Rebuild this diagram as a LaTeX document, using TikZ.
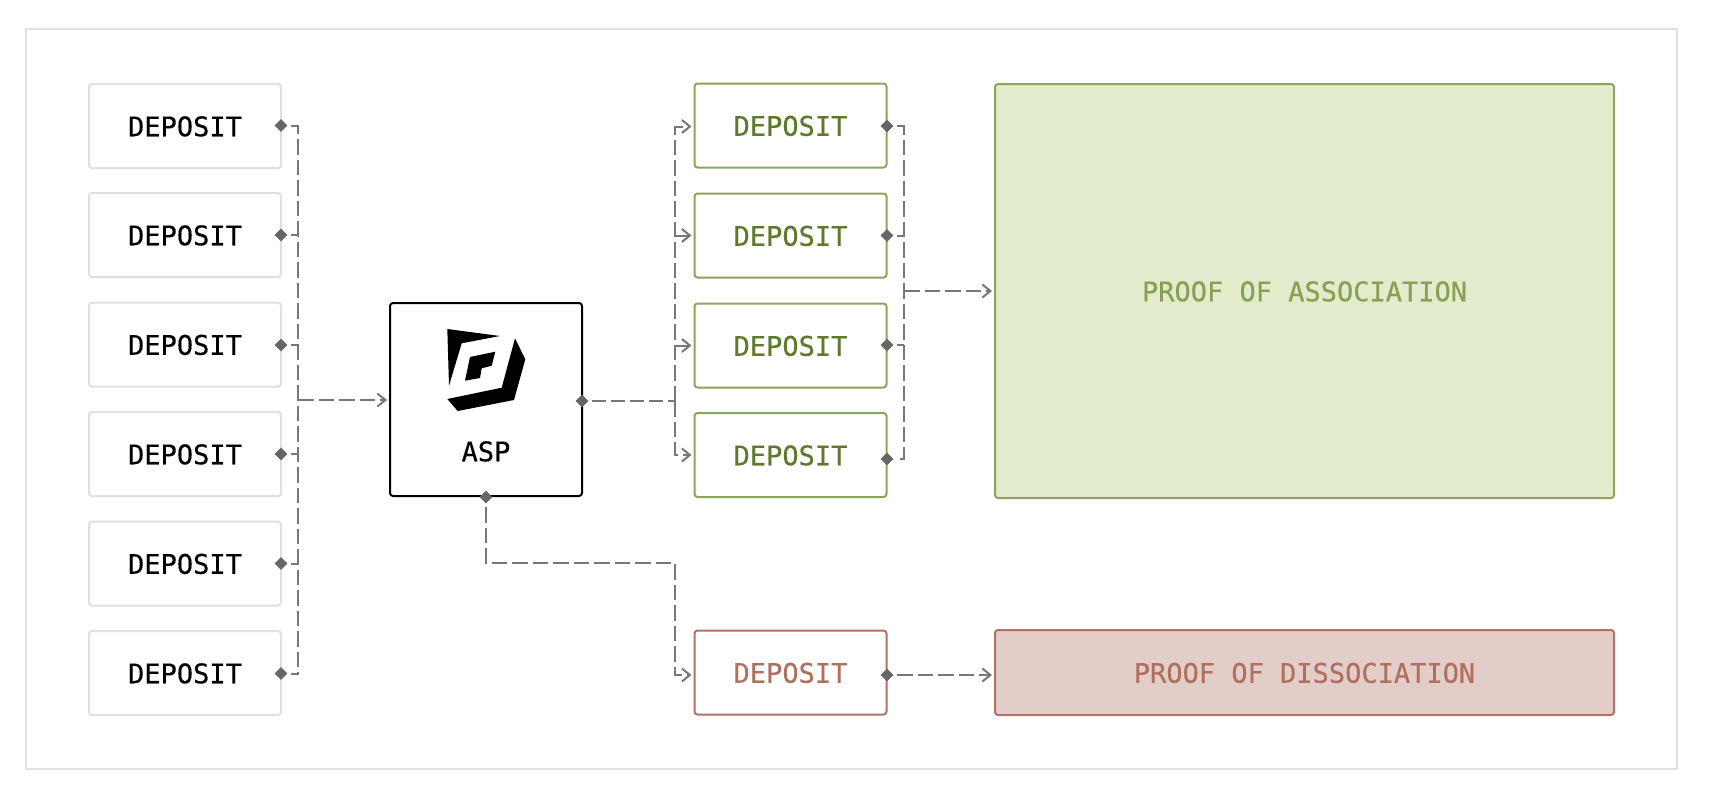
\documentclass[tikz,border=0pt]{standalone}
\usepackage{fontspec}
\usetikzlibrary{arrows.meta,shapes.geometric,calc}
\setmonofont[FakeBold=0.35]{DejaVu Sans Mono}
\definecolor{framegray}{HTML}{E1E1E1}
\definecolor{boxgray}{HTML}{E0E0E0}
\definecolor{conngray}{HTML}{777777}
\definecolor{dotgray}{HTML}{666666}
\definecolor{gborder}{HTML}{8BA55B}
\definecolor{gfill}{HTML}{E2EBCB}
\definecolor{gtext}{HTML}{5C7A2A}
\definecolor{gtextb}{HTML}{87A053}
\definecolor{rborder}{HTML}{B07264}
\definecolor{rfill}{HTML}{E3CDC8}
\definecolor{rtext}{HTML}{B07060}
\tikzset{
  label text/.style={font=\ttfamily\fontsize{27}{30}\selectfont,text height=20.5pt,text depth=0pt,inner sep=0pt},
  cardbox/.style={rectangle,rounded corners=3pt,line width=2pt,minimum width=192pt,minimum height=84pt,label text},
  plainbox/.style={cardbox,draw=boxgray,fill=white,text=black},
  greenbox/.style={cardbox,draw=gborder,fill=white,text=gtext},
  redbox/.style={cardbox,draw=rborder,fill=white,text=rtext},
  aspbox/.style={rectangle,rounded corners=3pt,line width=2pt,draw=black,fill=white,minimum width=192pt,minimum height=193pt},
  bigg/.style={cardbox,draw=gborder,fill=gfill,text=gtextb,minimum width=619pt,minimum height=414pt},
  bigr/.style={cardbox,draw=rborder,fill=rfill,text=rtext,minimum width=619pt,minimum height=85pt},
  dot/.style={diamond,aspect=1,fill=dotgray,inner sep=0pt,minimum width=13pt,minimum height=13pt},
  conn/.style={draw=conngray,line width=2pt,dash pattern=on 15.5pt off 5pt},
  tip/.style={-{Straight Barb[length=8pt,width=13pt,line width=2pt]},shorten >=2pt},
  fromdot/.style={shorten <=3.5pt}
}
\begin{document}
\begin{tikzpicture}[x=1pt,y=-1pt]
\useasboundingbox (0,0) rectangle (1720,798);
\fill[white] (0,0) rectangle (1720,798);
\draw[framegray,line width=2pt] (26,29) rectangle (1677,769);

% left deposits
\node[plainbox] (d1) at (185,126) {DEPOSIT};
\node[plainbox] (d2) at (185,235) {DEPOSIT};
\node[plainbox] (d3) at (185,344.5) {DEPOSIT};
\node[plainbox] (d4) at (185,454) {DEPOSIT};
\node[plainbox] (d5) at (185,563.5) {DEPOSIT};
\node[plainbox] (d6) at (185,673) {DEPOSIT};

% ASP
\node[aspbox] (asp) at (486,399.5) {};
\node[label text,text=black] (asplabel) at (486,451) {ASP};
\fill[black] (447.3,329) -- (500,336) -- (461.7,343.3) -- (449,385.7) -- cycle;
\fill[black] (515,338.3) -- (525.3,359.3) -- (514,400) -- (457.7,411) -- (447.3,399) -- (501.7,387.7) -- cycle;
\fill[black] (470,357) -- (495.3,351.7) -- (491.7,365.7) -- (481.7,368.3) -- (480,378) -- (465,380.7) -- cycle;

% green deposits
\node[greenbox] (g1) at (790.5,125.5) {DEPOSIT};
\node[greenbox] (g2) at (790.5,235.5) {DEPOSIT};
\node[greenbox] (g3) at (790.5,345.5) {DEPOSIT};
\node[greenbox] (g4) at (790.5,455) {DEPOSIT};
\node[bigg] (poa) at (1304.5,291) {PROOF OF ASSOCIATION};

% red
\node[redbox] (r1) at (790.5,672.5) {DEPOSIT};
\node[bigr] (pod) at (1304.5,672.5) {PROOF OF DISSOCIATION};

% port diamonds
\node[dot] (d1o) at (281,125.5) {};
\node[dot] (d2o) at (281,235) {};
\node[dot] (d3o) at (281,345) {};
\node[dot] (d4o) at (281,454) {};
\node[dot] (d5o) at (281,563.5) {};
\node[dot] (d6o) at (281,673.5) {};
\node[dot] (ao) at (582,401) {};
\node[dot] (bo) at (486,497) {};
\node[dot] (g1o) at (887,126) {};
\node[dot] (g2o) at (887,235.5) {};
\node[dot] (g3o) at (887,345) {};
\node[dot] (g4o) at (887,459) {};
\node[dot] (ro) at (887,675) {};

% junctions
\coordinate (tl) at (298,400);
\coordinate (gt) at (675,401);
\coordinate (rt) at (904,291);
\coordinate (bc1) at (486,563);
\coordinate (bc2) at (675,563);
\coordinate (bc3) at (675,675);

% deposits to ASP
\draw[conn,fromdot,shorten >=3.5pt] (d1o) -| (tl) |- (d6o);
\foreach \n in {d2o,d3o,d4o,d5o}{\draw[conn,fromdot] (\n) -- (\n -| tl);}
\draw[conn,tip] (tl) -- (asp.west |- tl);

% ASP to green deposits
\draw[conn,fromdot,dash pattern=on 13.5pt off 5.5pt] (ao) -- (gt);
\draw[conn,tip] (gt) |- (g1.west |- 0,126.5);
\draw[conn,tip] (gt) |- (g4.west);
\draw[conn,tip] (gt |- g2.west) -- (g2.west);
\draw[conn,tip] (gt |- g3.west) -- (g3.west);

% green deposits to proof of association
\draw[conn,fromdot,shorten >=3.5pt] (g1o) -| (rt) |- (g4o);
\draw[conn,fromdot] (g2o) -- (g2o -| rt);
\draw[conn,fromdot] (g3o) -- (g3o -| rt);
\draw[conn,tip] (rt) -- (poa.west);

% ASP to red deposit
\draw[conn,fromdot,tip] (bo) -- (bc1) -- (bc2) -- (bc3) -- (r1.west |- bc3);
\draw[conn,fromdot,tip] (ro) -- (ro -| pod.west);
\end{tikzpicture}
\end{document}
